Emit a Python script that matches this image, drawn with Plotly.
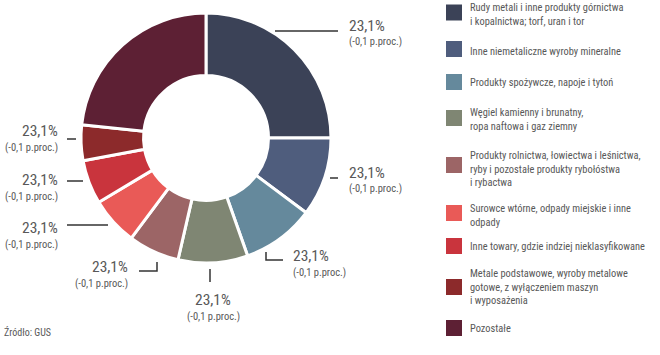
import plotly.graph_objects as go

categories = [
    "Rudy metali i inne produkty górnictwa<br>i kopalnictwa; torf, uran i tor",
    "Inne niemetaliczne wyroby mineralne",
    "Produkty spożywcze, napoje i tytoń",
    "Węgiel kamienny i brunatny,<br>ropa naftowa i gaz ziemny",
    "Produkty rolnictwa, łowiectwa i leśnictwa,<br>ryby i pozostałe produkty rybołóstwa<br>i rybactwa",
    "Surowce wtórne, odpady miejskie i inne<br>odpady",
    "Inne towary, gdzie indziej nieklasyfikowane",
    "Metale podstawowe, wyroby metalowe<br>gotowe, z wyłączeniem maszyn<br>i wyposażenia",
    "Pozostałe",
]
values = [25.0, 10.2, 9.4, 9.0, 6.6, 6.2, 5.7, 4.6, 23.3]
share_labels = ["23,1%", "23,1%", "23,1%", "23,1%", "23,1%", "23,1%", "23,1%", "23,1%", "23,1%"]
change_labels = ["(-0,1 p.proc.)"] * 9
colors = ["#3b4257", "#4f5d7d", "#65899c", "#7f8673", "#9c6566",
          "#e95a57", "#c9343d", "#8c2a2b", "#5d2034"]

W, H = 660, 355
FONT = "Liberation Sans Narrow, Roboto Condensed, DejaVu Sans Condensed, sans-serif"
TXT = "#585858"

def px(x):
    return x / W

def py(y):
    return 1 - y / H

fig = go.Figure()
fig.add_trace(go.Pie(
    values=values, labels=categories, sort=False, direction="clockwise",
    rotation=0, hole=0.5, textinfo="none", hoverinfo="label+value",
    marker=dict(colors=colors, line=dict(color="white", width=3)),
    domain=dict(x=[px(81), px(331)], y=[py(263), py(13)]),
    showlegend=False,
))

# label layout: (text x, text y of big label, anchor, leader polyline in px)
label_layout = [
    (347, 26, "left", [(275, 31), (338, 31)]),
    (347, 173, "left", [(330, 178), (338, 178)]),
    (291, 256, "left", [(266, 252), (266, 260), (283, 260)]),
    (213, 300, "center", [(210, 269), (210, 282)]),
    (130, 267, "right", [(139, 271), (157, 271), (157, 262)]),
    (60, 228, "right", [(67, 225), (108, 225)]),
    (60, 180, "right", [(67, 181), (83, 181)]),
    (60, 131, "right", [(67, 139), (76, 139)]),
]

shapes = []
annotations = []
for i, (tx, ty, anc, pts) in enumerate(label_layout):
    annotations.append(dict(x=px(tx), y=py(ty), xref="paper", yref="paper",
                            text=share_labels[i], showarrow=False, xanchor=anc,
                            yanchor="middle",
                            font=dict(family=FONT, size=15.5, color=TXT)))
    annotations.append(dict(x=px(tx), y=py(ty + 16), xref="paper", yref="paper",
                            text=change_labels[i], showarrow=False, xanchor=anc,
                            yanchor="middle",
                            font=dict(family=FONT, size=10.5, color=TXT)))
    path = "M " + " L ".join(f"{px(x)},{py(y)}" for x, y in pts)
    shapes.append(dict(type="path", path=path, xref="paper", yref="paper",
                       line=dict(color="#333333", width=1.5)))

# legend
square_y = [12.5, 49, 82, 118, 165, 213, 246, 287, 328]
text_y = [14.5, 51, 82, 119, 169, 215, 246, 287, 328]
for i in range(len(categories)):
    cy = square_y[i]
    shapes.append(dict(type="rect", xref="paper", yref="paper",
                       x0=px(446), x1=px(462), y0=py(cy - 8), y1=py(cy + 8),
                       fillcolor=colors[i], line=dict(width=0)))
    annotations.append(dict(x=px(468), y=py(text_y[i]), xref="paper", yref="paper",
                            text=categories[i], showarrow=False, xanchor="left",
                            yanchor="middle", align="left",
                            font=dict(family=FONT, size=10.4, color=TXT)))

annotations.append(dict(x=px(2), y=py(332), xref="paper", yref="paper",
                        text="Źródło: GUS", showarrow=False, xanchor="left",
                        yanchor="middle", font=dict(family=FONT, size=10, color=TXT)))

fig.update_layout(width=W, height=H, margin=dict(l=0, r=0, t=0, b=0),
                  paper_bgcolor="white", plot_bgcolor="white",
                  shapes=shapes, annotations=annotations)
fig.write_html("out.html", config={"displayModeBar": False},
               post_script="document.body.style.margin='0';")
